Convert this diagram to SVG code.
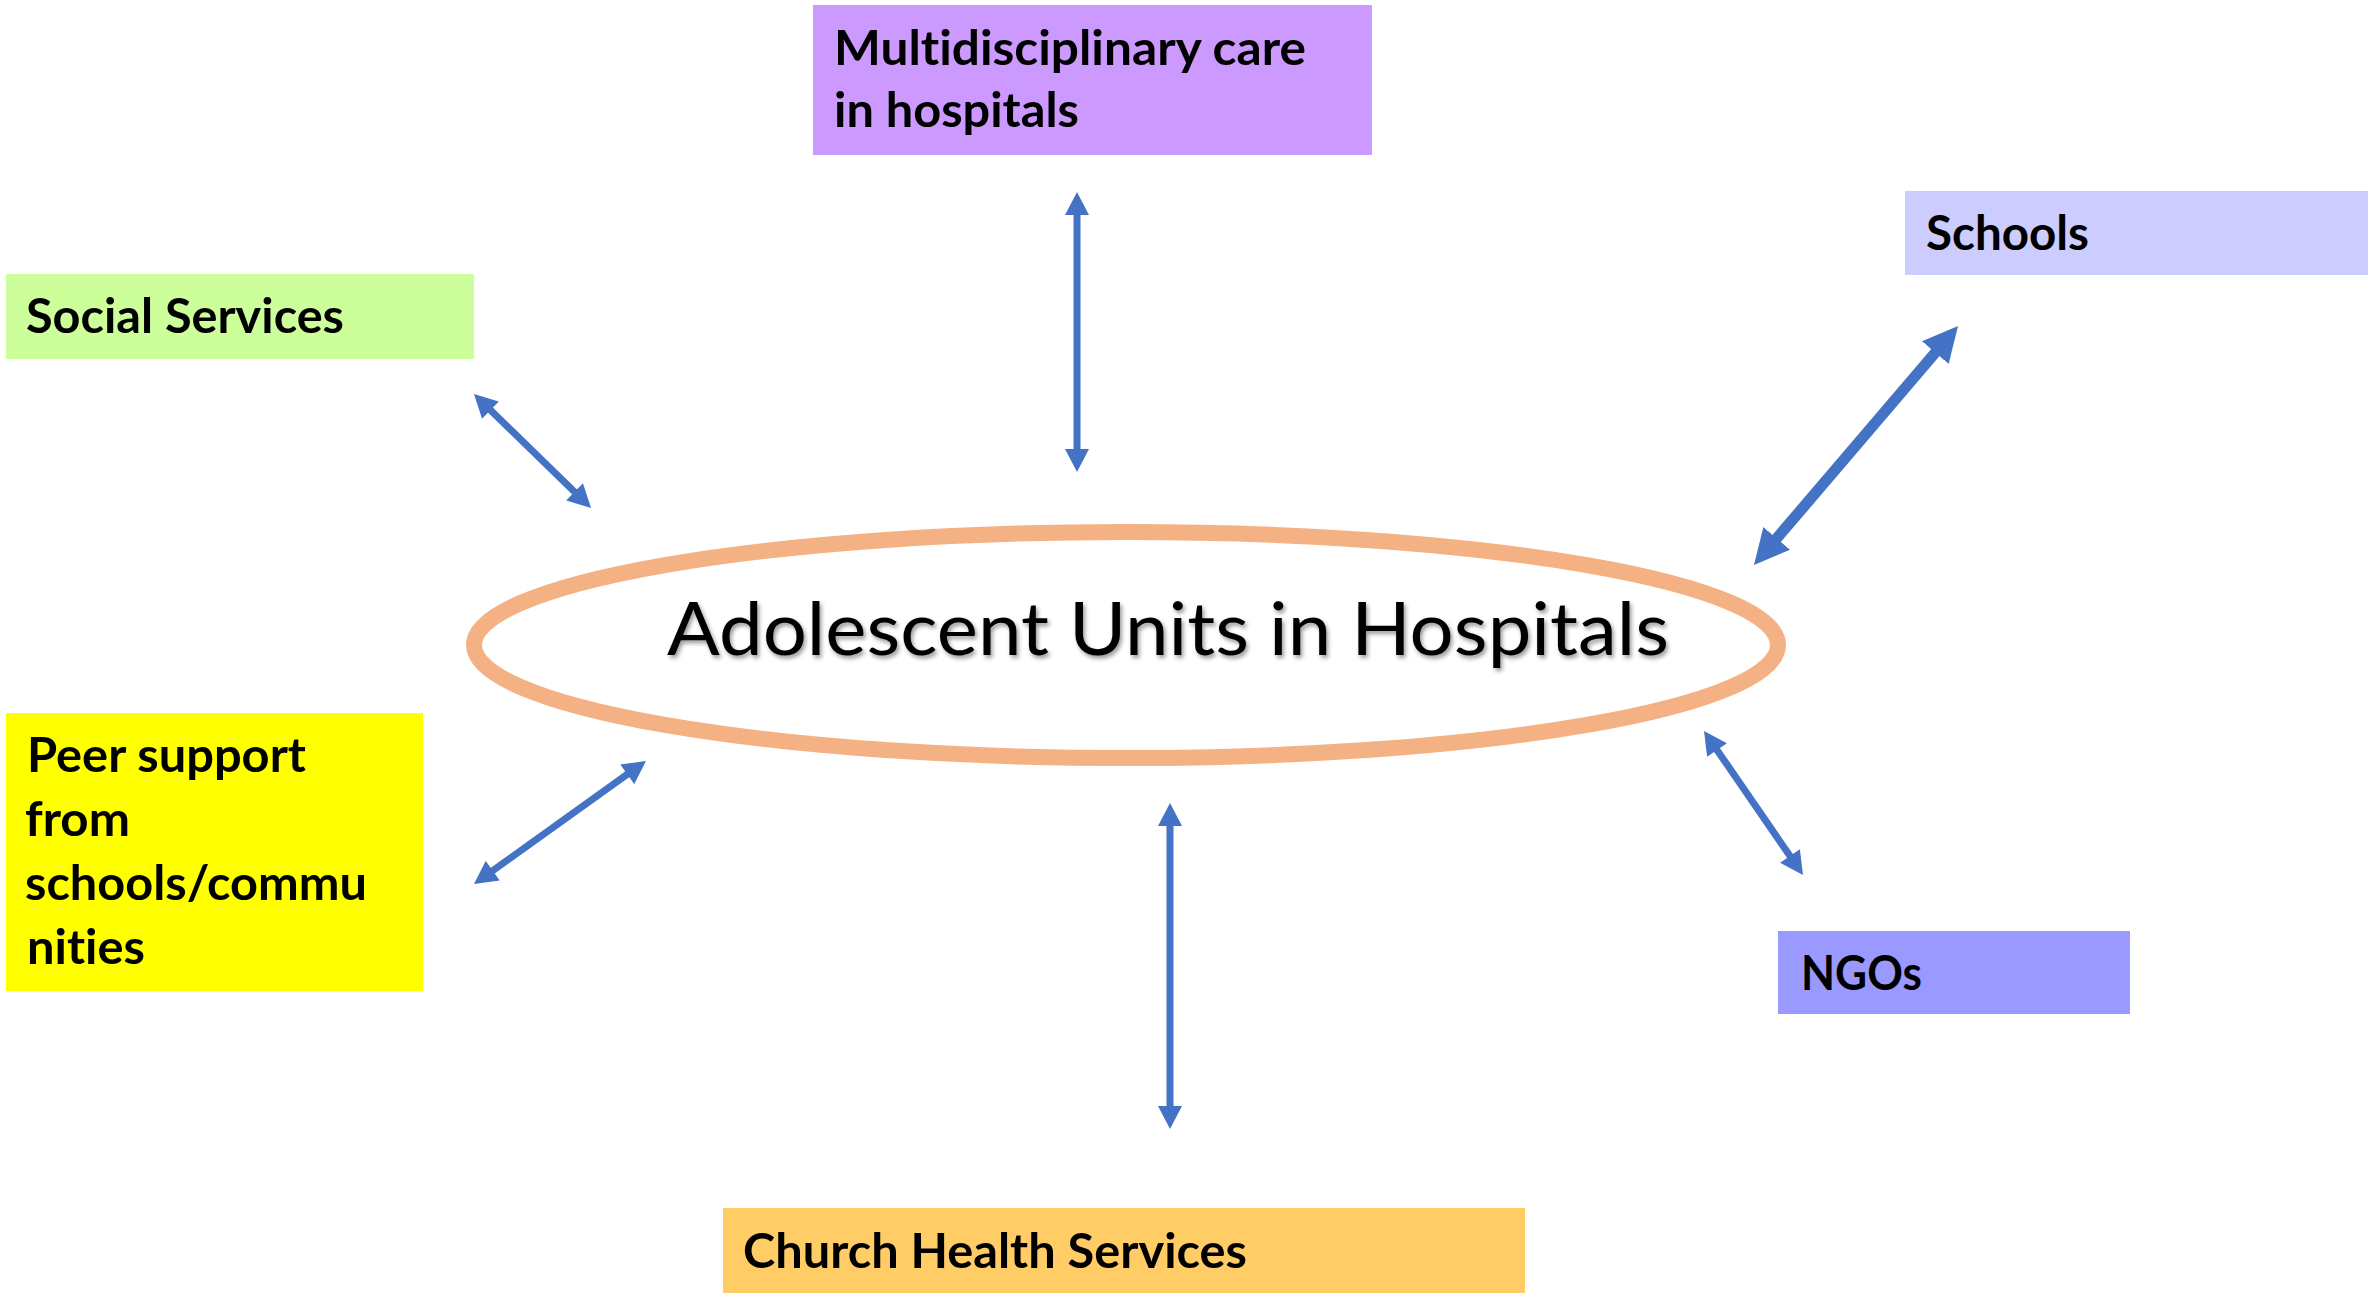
<svg xmlns="http://www.w3.org/2000/svg" width="2377" height="1293" viewBox="0 0 2377 1293">
  <style>
    .box { stroke: none; }
    .label { font-family: Lato, "Liberation Sans", Arial, sans-serif; font-weight: bold; font-size: 48px; fill: #000; font-variant-ligatures: none; }
    .hub-text { font-family: Lato, "Liberation Sans", Arial, sans-serif; font-weight: normal; font-size: 74px; fill: #000; font-variant-ligatures: none; }
    .link { stroke: #4472C4; stroke-width: 7; fill: none; marker-start: url(#head); marker-end: url(#head); }
    .link.thick { stroke-width: 11; marker-start: url(#headLarge); marker-end: url(#headLarge); }
  </style>
  <defs>
    <marker id="head" markerUnits="userSpaceOnUse" markerWidth="24" markerHeight="24" viewBox="0 -12 23 24" refX="8" refY="0" orient="auto-start-reverse">
      <path d="M0,-12 L23,0 L0,12 z" fill="#4472C4"/>
    </marker>
    <marker id="headLarge" markerUnits="userSpaceOnUse" markerWidth="35" markerHeight="36" viewBox="0 -18 35 36" refX="12" refY="0" orient="auto-start-reverse">
      <path d="M0,-17.5 L35,0 L0,17.5 z" fill="#4472C4"/>
    </marker>
    <filter id="textShadow" x="-5%" y="-20%" width="110%" height="140%">
      <feDropShadow dx="2" dy="3" stdDeviation="2" flood-color="#000" flood-opacity="0.4"/>
    </filter>
  </defs>

  <rect width="2377" height="1293" fill="#FFFFFF"/>

  <!-- connectors -->
  <g id="connectors">
    <line class="link" x1="1077" y1="207" x2="1077" y2="457"/>
    <line class="link" x1="1170" y1="818" x2="1170" y2="1114"/>
    <line class="link" x1="484.7" y1="404.5" x2="580.3" y2="497.5"/>
    <line class="link" x1="633.8" y1="769.7" x2="486.2" y2="875.3"/>
    <line class="link" x1="1712.5" y1="743.4" x2="1794.5" y2="862.6"/>
    <line class="link thick" x1="1943.1" y1="343.5" x2="1768.9" y2="547.5"/>
  </g>

  <!-- central hub -->
  <g id="hub">
    <ellipse cx="1126" cy="645" rx="652" ry="113" fill="#FFFFFF" stroke="#F4B183" stroke-width="16"/>
    <text class="hub-text" x="667" y="655" textLength="1002" lengthAdjust="spacingAndGlyphs" filter="url(#textShadow)">Adolescent Units in Hospitals</text>
  </g>

  <g id="multidisciplinary">
    <rect class="box" x="813" y="5" width="559" height="150" fill="#CC99FF"/>
    <text class="label" x="834" y="65" textLength="472" lengthAdjust="spacingAndGlyphs">Multidisciplinary care</text>
    <text class="label" x="834" y="127" textLength="245" lengthAdjust="spacingAndGlyphs">in hospitals</text>
  </g>

  <g id="social-services">
    <rect class="box" x="6" y="274" width="468" height="85" fill="#CCFF99"/>
    <text class="label" x="26" y="333" textLength="318" lengthAdjust="spacingAndGlyphs">Social Services</text>
  </g>

  <g id="schools">
    <rect class="box" x="1905" y="191" width="463" height="84" fill="#CCCCFF"/>
    <text class="label" x="1926" y="250" textLength="163" lengthAdjust="spacingAndGlyphs">Schools</text>
  </g>

  <g id="peer-support">
    <rect class="box" x="6" y="713" width="417" height="278" fill="#FFFF00"/>
    <text class="label" x="27" y="772" textLength="279" lengthAdjust="spacingAndGlyphs">Peer support</text>
    <text class="label" x="25" y="836" textLength="105" lengthAdjust="spacingAndGlyphs">from</text>
    <text class="label" x="25" y="900" textLength="342" lengthAdjust="spacingAndGlyphs">schools/commu</text>
    <text class="label" x="27" y="964" textLength="118" lengthAdjust="spacingAndGlyphs">nities</text>
  </g>

  <g id="ngos">
    <rect class="box" x="1778" y="931" width="352" height="83" fill="#9999FF"/>
    <text class="label" x="1801" y="990" textLength="121" lengthAdjust="spacingAndGlyphs">NGOs</text>
  </g>

  <g id="church-health">
    <rect class="box" x="723" y="1208" width="802" height="85" fill="#FFCC66"/>
    <text class="label" x="743" y="1268" textLength="504" lengthAdjust="spacingAndGlyphs">Church Health Services</text>
  </g>
</svg>
